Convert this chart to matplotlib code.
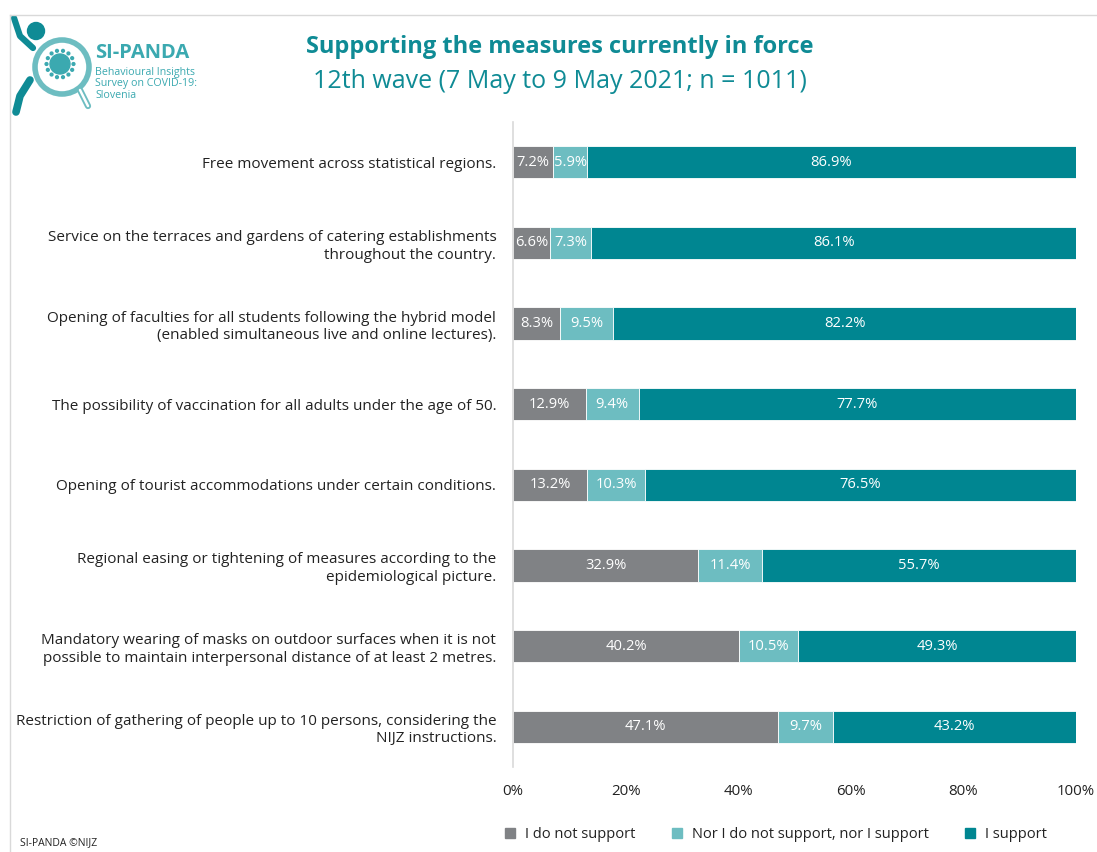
import numpy as np
import matplotlib.pyplot as plt
from matplotlib.patches import Circle
from matplotlib.lines import Line2D

plt.rcParams['font.family'] = ['Open Sans', 'DejaVu Sans']

measures = [
    "Free movement across statistical regions.",
    "Service on the terraces and gardens of catering establishments\nthroughout the country.",
    "Opening of faculties for all students following the hybrid model\n(enabled simultaneous live and online lectures).",
    "The possibility of vaccination for all adults under the age of 50.",
    "Opening of tourist accommodations under certain conditions.",
    "Regional easing or tightening of measures according to the\nepidemiological picture.",
    "Mandatory wearing of masks on outdoor surfaces when it is not\npossible to maintain interpersonal distance of at least 2 metres.",
    "Restriction of gathering of people up to 10 persons, considering the\nNIJZ instructions.",
]
not_support = [7.2, 6.6, 8.3, 12.9, 13.2, 32.9, 40.2, 47.1]
neutral = [5.9, 7.3, 9.5, 9.4, 10.3, 11.4, 10.5, 9.7]
support = [86.9, 86.1, 82.2, 77.7, 76.5, 55.7, 49.3, 43.2]

series = ["I do not support", "Nor I do not support, nor I support", "I support"]
colors = ["#808285", "#6dbdc1", "#008691"]

fig = plt.figure(figsize=(10.97, 8.52), dpi=100)
ax = fig.add_axes([0.4676, 0.0998, 0.5133, 0.757])

y = np.arange(len(measures))
left = np.zeros(len(measures))
for vals, col, name in zip([not_support, neutral, support], colors, series):
    vals = np.array(vals)
    bars = ax.barh(y, vals, left=left, height=0.4, color=col, label=name,
                   edgecolor='white', linewidth=0.6)
    for b, v in zip(bars, vals):
        ax.text(b.get_x() + b.get_width() / 2, b.get_y() + b.get_height() / 2,
                f"{v:.1f}%", ha='center', va='center', color='white', fontsize=10.6)
    left += vals

ax.set_ylim(len(measures) - 0.5, -0.5)
ax.set_xlim(0, 100)
ax.set_yticks(y)
ax.set_yticklabels(measures, fontsize=11, color='#222222', linespacing=1.25)
ax.set_xticks(np.arange(0, 101, 20))
ax.set_xticklabels([f"{t}%" for t in range(0, 101, 20)], fontsize=10.8, color='#222222')
ax.tick_params(axis='both', length=0)
ax.tick_params(axis='y', pad=12)
ax.tick_params(axis='x', pad=12)
for s in ['top', 'right', 'bottom']:
    ax.spines[s].set_visible(False)
ax.spines['left'].set_color('#d9d9d9')
ax.spines['left'].set_linewidth(1.2)

# titles
fig.text(0.51, 0.945, "Supporting the measures currently in force", ha='center', va='center',
         fontsize=17, fontweight='bold', color='#0f8b95')
fig.text(0.51, 0.904, "12th wave (7 May to 9 May 2021; n = 1011)", ha='center', va='center',
         fontsize=18, color='#0f8b95')

# legend
handles = [Line2D([], [], marker='s', linestyle='none', markersize=7, color=c) for c in colors]
fig.legend(handles, series, loc='center', bbox_to_anchor=(0.703, 0.021), ncol=3, frameon=False,
           fontsize=10.5, handletextpad=0.05, columnspacing=1.8, labelcolor='#222222')

fig.text(0.018, 0.011, "SI-PANDA ©NIJZ", fontsize=7.5, color='#222222', va='center')

# frame lines
fig.add_artist(Line2D([10 / 1097, 1], [1 - 15 / 852] * 2, color='#d9d9d9', lw=1, transform=fig.transFigure))
fig.add_artist(Line2D([10 / 1097] * 2, [0, 1 - 15 / 852], color='#d9d9d9', lw=1, transform=fig.transFigure))

# logo
lax = fig.add_axes([0, 1 - 120 / 852, 300 / 1097, 120 / 852])
lax.set_xlim(0, 300)
lax.set_ylim(120, 0)
lax.axis('off')
lax.add_patch(Circle((62, 67), 27, fill=False, ec='#6dbdc1', lw=4))
lax.plot([80, 88], [90, 106], color='#6dbdc1', lw=4.5, solid_capstyle='round')
lax.plot([80, 88], [90, 106], color='white', lw=1.8, solid_capstyle='round')
lax.add_patch(Circle((60, 64), 10, color='#3ba9b0'))
for a in np.linspace(0, 2 * np.pi, 14, endpoint=False):
    lax.add_patch(Circle((60 + 13.5 * np.cos(a), 64 + 13.5 * np.sin(a)), 1.4, color='#3ba9b0'))
lax.add_patch(Circle((36, 31), 8.5, color='#0f8b95'))
lax.plot([14, 20, 33], [18, 36, 48], color='#0f8b95', lw=4.5, solid_capstyle='round')
lax.plot([30, 20, 16], [80, 96, 112], color='#0f8b95', lw=5.5, solid_capstyle='round')
lax.text(95, 53, "SI-PANDA", fontsize=14.5, fontweight='bold', color='#3ba9b0', va='center')
for i, line in enumerate(["Behavioural Insights", "Survey on COVID-19:", "Slovenia"]):
    lax.text(95, 72 + i * 11.5, line, fontsize=7.7, color='#3ba9b0', va='center')

fig.savefig("out.png", dpi=100)
